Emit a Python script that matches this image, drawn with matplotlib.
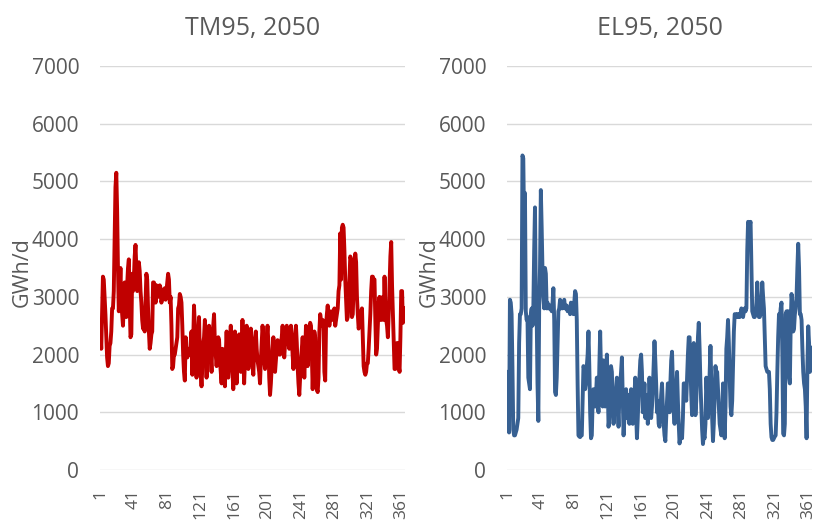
import matplotlib
matplotlib.use("Agg")
import matplotlib.pyplot as plt
import numpy as np

plt.rcParams['font.family'] = ['Open Sans', 'DejaVu Sans']

titles = ["TM95, 2050", "EL95, 2050"]
ylabel = "GWh/d"
yticks = [0, 1000, 2000, 3000, 4000, 5000, 6000, 7000]
xtick_days = [1, 41, 81, 121, 161, 201, 241, 281, 321, 361]
line_colors = ["#C00000", "#376092"]

tm95 = [
    2400, 2100, 2700, 3350, 3300, 3000, 2700, 2300, 1950, 1800,
    1850, 2150, 2200, 2400, 2800, 2800, 3100, 4000, 4900, 5150,
    4500, 3500, 2750, 3100, 3500, 2900, 2700, 2500, 2900, 3250,
    3000, 2650, 3200, 3500, 3650, 2900, 2300, 2350, 3400, 3100,
    3300, 3700, 3900, 3500, 3100, 3300, 3600, 3450, 3100, 2900,
    2600, 2450, 2500, 2400, 2900, 3400, 3300, 2800, 2400, 2100,
    2200, 2350, 2400, 3250, 3250, 3200, 2900, 3200, 3150, 3000,
    3100, 3200, 3150, 2900, 3000, 3100, 3100, 3150, 2950, 3100,
    3250, 3400, 3300, 2900, 3000, 2500, 1750, 1800, 2000, 2000,
    2100, 2200, 2300, 2800, 2850, 3050, 3000, 2900, 2500, 2000,
    1700, 1550, 2300, 2000, 1950, 2000, 2100, 2000, 2200, 2400,
    1650, 2200, 2850, 2500, 2200, 1600, 1900, 2300, 2650, 2000,
    1700, 1450, 1800, 2200, 2300, 2600, 2100, 1600, 2000, 1900,
    2500, 2300, 2000, 1700, 2300, 2500, 2700, 2200, 2000, 1800,
    2000, 2300, 2250, 1900, 1700, 1500, 2100, 1900, 1700, 1450,
    2000, 2400, 2000, 1600, 1900, 2200, 2500, 2000, 1700, 1400,
    1800, 2400, 2000, 1500, 1900, 2200, 2350, 2100, 1700, 2000,
    2600, 2000, 1500, 1900, 2200, 2500, 2100, 1750, 2000, 2200,
    2450, 2000, 1800, 1650, 2100, 2300, 2400, 2100, 1900, 1800,
    1700, 1500, 1900, 2200, 2500, 2300, 1900, 1750, 2100, 2300,
    2500, 2200, 1600, 1300, 1500, 1800, 2100, 2300, 2000, 1700,
    1900, 2100, 2250, 2200, 2000, 2000, 2200, 2300, 2500, 2200,
    1950, 2200, 2400, 2500, 2300, 2200, 2100, 2300, 2500, 2300,
    2000, 1750, 2100, 2300, 2500, 2200, 1800, 1500, 1300, 1600,
    1900, 2100, 2300, 2000, 1600, 2000, 2500, 2200, 1800, 2000,
    2300, 2550, 2500, 2000, 1400, 1900, 2400, 2300, 1800, 1400,
    1350, 1600, 2400, 2700, 2600, 2500, 2600, 2500, 1700, 1550,
    2500, 2700, 2850, 2600, 2500, 2600, 2750, 2700, 2600, 2700,
    2800, 2500, 2600, 2700, 2800, 3100, 3200, 4100, 3300, 4200,
    4250, 4200, 3800, 3300, 2950, 2600, 2650, 3000, 3300, 3700,
    3650, 2650, 2700, 3200, 3500, 3750, 3600, 3000, 2700, 2450,
    2500, 2700, 2750, 2800, 2300, 1800, 1700, 1650, 1700, 1850,
    1850, 2100, 2400, 2700, 3100, 3350, 3350, 3300, 3300, 2600,
    2000, 2100, 2500, 2900, 3000, 2600, 2600, 2900, 3000, 2600,
    3350, 2800, 2600, 2500, 2300, 2700, 3200, 3700, 3950, 3200,
    2700, 2200, 1750, 1750, 1800, 2200, 2200, 1800, 1700, 2300,
    3100, 3100, 2550, 2600, 2800,
]

el95 = [
    1700, 700, 650, 2950, 2900, 2700, 1800, 700, 600, 600,
    650, 700, 800, 900, 2200, 2700, 2700, 2800, 5450, 5400,
    4200, 4800, 2750, 2600, 2650, 1600, 1500, 1400, 2700, 2800,
    2500, 2800, 3800, 4550, 3000, 2700, 1500, 850, 2800, 3500,
    4850, 4200, 3450, 3000, 2800, 3500, 3400, 2800, 2900, 2800,
    2800, 2850, 2800, 2750, 2900, 3150, 2600, 1350, 1300, 1600,
    2200, 2750, 2800, 2950, 2800, 2850, 2800, 2900, 2950, 2800,
    2800, 2850, 2750, 2800, 2800, 2700, 2900, 2800, 2850, 2700,
    2900, 3100, 3050, 2600, 1500, 600, 580, 570, 600, 600,
    1200, 1800, 1750, 1400, 1500, 1800, 2000, 2400, 1800, 1000,
    550, 600, 1200, 1400, 1300, 1100, 1300, 1600, 1200, 1000,
    1800, 2400, 1700, 1200, 1100, 1900, 1500, 1100, 1300, 2000,
    1500, 750, 900, 1200, 1800, 1700, 1200, 800, 1000, 1200,
    1400, 1600, 1100, 750, 1300, 1500, 1700, 1950, 1300, 600,
    900, 1300, 1400, 900, 1100, 1300, 800, 1200, 1400, 1000,
    800, 1100, 1300, 1600, 1000, 550, 900, 1300, 1600, 1900,
    2000, 1700, 1000, 1200, 1500, 900, 1000, 1300, 800, 1100,
    1600, 1200, 900, 1100, 1400, 1800, 2230, 1900, 1500, 1000,
    1200, 800, 750, 1000, 1300, 1500, 1100, 800, 600, 500,
    900, 1200, 1500, 1300, 1000, 1500, 1900, 2050, 1500, 1000,
    800, 1100, 1400, 1700, 1200, 800, 460, 600, 700, 550,
    900, 1500, 1500, 1400, 1200, 1600, 2000, 2300, 2300, 1800,
    1300, 950, 1500, 2200, 1600, 950, 1200, 1800, 2300, 2550,
    2100, 1500, 1100, 700, 450, 600, 550, 800, 1600, 1300,
    900, 1200, 1700, 2150, 1500, 900, 500, 800, 1300, 1800,
    1600, 1700, 1400, 1100, 800, 700, 600, 900, 1500, 1200,
    550, 1100, 2100, 2300, 2600, 2200, 1600, 1100, 950, 1200,
    1800, 2400, 2700, 2700, 2650, 2700, 2650, 2700, 2650, 2700,
    2800, 2750, 2650, 2750, 2800, 2750, 2800, 3800, 4300, 4250,
    4250, 4300, 3500, 2750, 2700, 2650, 2650, 2700, 2900, 3250,
    2900, 2650, 2650, 2700, 2900, 3250, 3000, 2800, 2300, 1800,
    1750, 1700, 1700, 1700, 1400, 800, 570, 520, 520, 550,
    580, 600, 1000, 1700, 2300, 2700, 2600, 2800, 2900, 2000,
    630, 600, 800, 2700, 2750, 2700, 2750, 1600, 1500, 2500,
    3050, 2900, 2400, 2450, 2700, 2800, 3000, 3500, 3920, 3500,
    2700, 2700, 2600, 2100, 1700, 1500, 1400, 1100, 550, 1800,
    2490, 2200, 1700, 1800, 2120,
]

series = [tm95, el95]
grey = "#595959"

fig = plt.figure(figsize=(8.18, 5.25), dpi=100)
positions = [
    [100 / 818, (525 - 470) / 525, 305 / 818, 404 / 525],
    [507 / 818, (525 - 470) / 525, 305 / 818, 404 / 525],
]

for i in range(2):
    ax = fig.add_axes(positions[i])
    vals = series[i]
    days = np.arange(1, len(vals) + 1)
    ax.plot(days, vals, color=line_colors[i], lw=2.8, solid_joinstyle='round', zorder=3)
    ax.set_xlim(0.5, 365.5)
    ax.set_ylim(0, 7000)
    ax.set_yticks(yticks)
    ax.set_yticklabels([str(v) for v in yticks], fontsize=15, color=grey)
    ax.set_xticks(xtick_days)
    ax.set_xticklabels([str(v) for v in xtick_days], fontsize=12.5, color=grey, rotation=90)
    ax.tick_params(axis='both', length=0)
    ax.tick_params(axis='y', pad=15)
    ax.tick_params(axis='x', pad=14)
    ax.grid(axis='y', color='#D9D9D9', lw=1)
    ax.set_axisbelow(True)
    for s in ax.spines.values():
        s.set_visible(False)
    ax.set_title(titles[i], fontsize=18, color=grey, pad=22)
    ax.set_ylabel(ylabel, fontsize=15.5, color=grey)
    ax.yaxis.set_label_coords(-0.22, 0.49)

fig.savefig("out.png", dpi=100)
